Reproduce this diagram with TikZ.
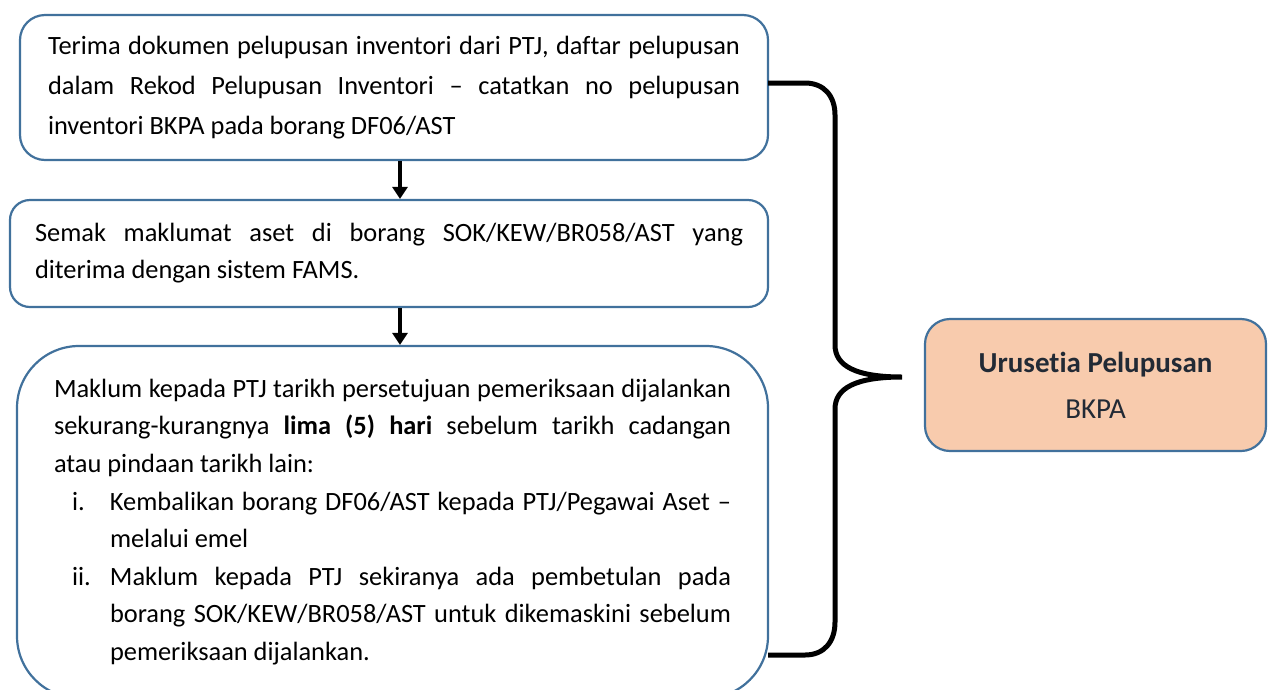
\documentclass[tikz,border=0pt]{standalone}
\usepackage{fontspec}
\setmainfont{Carlito}[Ligatures=NoCommon]
\usetikzlibrary{arrows.meta}
\definecolor{bord}{HTML}{41719C}
\definecolor{peach}{HTML}{F8CBAD}
\definecolor{dtext}{HTML}{222A35}
\newcommand{\bodyfont}[1]{\fontsize{26.4}{#1}\selectfont\hyphenpenalty=10000\exhyphenpenalty=10000}
\begin{document}
\begin{tikzpicture}[x=1pt,y=-1pt,
  stepbox/.style={draw=bord, line width=2.2pt, fill=white, inner sep=0pt, align=left},
  flowarrow/.style={line width=3.5pt, -{Triangle[width=15pt,length=12pt]}},
  bracepath/.style={line width=5pt, line cap=butt}]
\useasboundingbox (0,0) rectangle (1268,689);
\clip (0,0) rectangle (1268,689);

\node[stepbox, rounded corners=25pt, minimum width=748pt, minimum height=145pt] (b1) at (394,87.5)
 {\parbox{692pt}{\bodyfont{40}Terima dokumen pelupusan inventori dari PTJ, daftar pelupusan\linebreak
  dalam Rekod Pelupusan Inventori – catatkan no pelupusan\linebreak
  inventori BKPA pada borang DF06/AST}};

\node[stepbox, rounded corners=20pt, minimum width=758pt, minimum height=107pt] (b2) at (389,253.5)
 {\parbox{708pt}{\bodyfont{37}Semak maklumat aset di borang SOK/KEW/BR058/AST yang\linebreak
  diterima dengan sistem FAMS.}};

\node[stepbox, rounded corners=62pt, minimum width=751pt, minimum height=352pt] (b3) at (392.5,522)
 {\parbox{677pt}{\bodyfont{37.6}Maklum kepada PTJ tarikh persetujuan pemeriksaan dijalankan\linebreak
  sekurang-kurangnya \textbf{lima (5) hari} sebelum tarikh cadangan\linebreak
  atau pindaan tarikh lain:\par
  \hangindent=56pt\hangafter=1\hspace*{18pt}\makebox[38pt][l]{i.}Kembalikan borang DF06/AST kepada PTJ/Pegawai Aset –\linebreak
  melalui emel\par
  \hangindent=56pt\hangafter=1\hspace*{18pt}\makebox[38pt][l]{ii.}Maklum kepada PTJ sekiranya ada pembetulan pada\linebreak
  borang SOK/KEW/BR058/AST untuk dikemaskini sebelum\linebreak
  pemeriksaan dijalankan.}};

\node[draw=bord, line width=2.2pt, fill=peach, rounded corners=25pt, minimum width=341pt, minimum height=132pt,
  align=center, text=dtext, font=\fontsize{29}{46}\selectfont] (b4) at (1095.5,385)
 {\textbf{Urusetia Pelupusan}\\BKPA};

\coordinate (ax) at (400,0);
\draw[flowarrow] (b1.south -| ax) -- (b2.north -| ax);
\draw[flowarrow] (b2.south -| ax) -- (b3.north -| ax);

\coordinate (btop) at (768,83);
\coordinate (tip) at (902,377);
\coordinate (bbot) at (768,655);
\draw[bracepath] (btop) -- (805,83) .. controls (824,83) and (835,96) .. (835,115)
  -- (835,345) .. controls (835,366) and (856,377) .. (tip)
  .. controls (856,377) and (835,388) .. (835,409)
  -- (835,622) .. controls (835,642) and (824,655) .. (805,655) -- (bbot);
\end{tikzpicture}
\end{document}
